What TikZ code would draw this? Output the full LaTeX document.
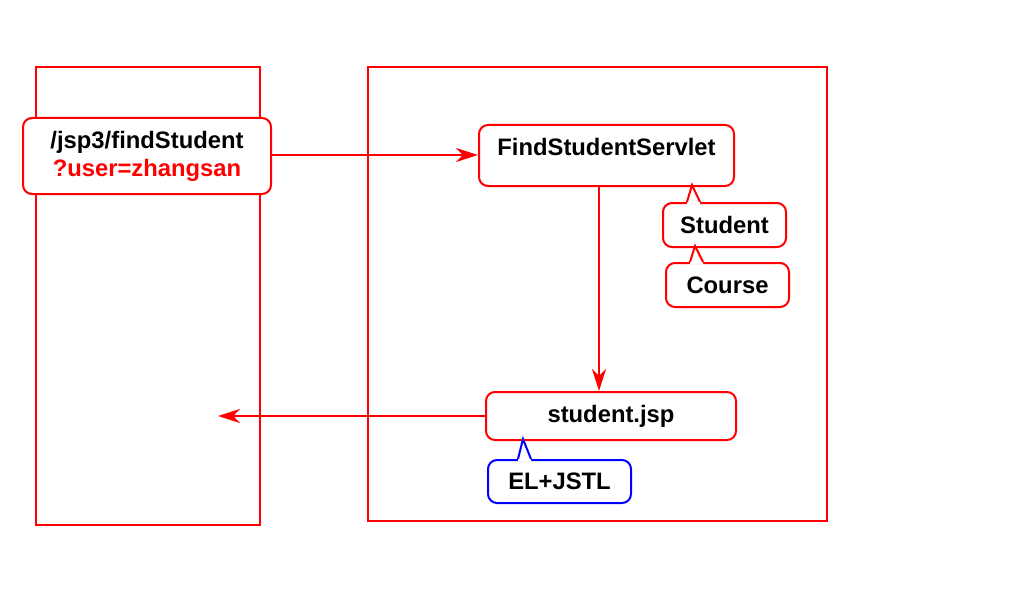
\documentclass[tikz,border=0pt]{standalone}
\usepackage{fontspec}
\setmainfont{Liberation Sans}
\usetikzlibrary{arrows.meta,calc}

\tikzset{
  rbox/.style={draw=red, line width=2pt, rounded corners=9pt, fill=white,
    font=\fontsize{23.8}{28}\selectfont\bfseries, align=center, inner sep=0pt},
  frame/.style={draw=red, line width=2.8pt},
  flow/.style={draw=red, line width=2.8pt, -{Stealth[length=22pt, width=14pt, inset=7pt]}}
}
% small pointer on top of a callout: node, offset from west, height, colour
\newcommand{\callouttip}[4]{%
  \fill[white] ([xshift=#2pt, yshift=-2.5pt]#1.north west) -- ([xshift=#2pt]#1.north west)
    -- ([xshift=#2pt+5pt, yshift=#3pt]#1.north west) -- ([xshift=#2pt+13pt]#1.north west)
    -- ([xshift=#2pt+13pt, yshift=-2.5pt]#1.north west) -- cycle;
  \draw[#4, line width=2pt] ([xshift=#2pt]#1.north west)
    -- ([xshift=#2pt+5pt, yshift=#3pt]#1.north west) -- ([xshift=#2pt+13pt]#1.north west);
}

\begin{document}
\begin{tikzpicture}[x=1pt, y=-1pt]
\useasboundingbox (0,0) rectangle (1024,596);

% browser and server
\draw[frame] (36,67) rectangle (260,525);
\draw[frame] (368,67) rectangle (827,521);

\node[rbox, minimum width=248, minimum height=76] (req) at (147,156)
  {/jsp3/findStudent\\\textcolor{red}{?user=zhangsan}};
\node[rbox, minimum width=255, minimum height=61, text height=16pt, text depth=16pt] (fss) at (606.5,155.5)
  {FindStudentServlet};
\node[rbox, minimum width=250, minimum height=48] (jsp) at (611,416) {student.jsp};

\node[rbox, minimum width=123, minimum height=44] (stud) at (724.5,225) {Student};
\node[rbox, minimum width=123, minimum height=44] (course) at (727.5,285) {Course};
\node[rbox, draw=blue, minimum width=143, minimum height=43] (el) at (559.5,481.5) {EL+JSTL};

\callouttip{stud}{25}{17}{red}
\callouttip{course}{25}{16}{red}
\callouttip{el}{31}{20}{blue}

\coordinate (back) at (218,416);
\draw[flow] (req.east |- 0,155) -- (fss.west |- 0,155);
\draw[flow] (fss.south -| 599,0) -- (jsp.north -| 599,0);
\draw[flow] (jsp.west) -- (back);
\end{tikzpicture}
\end{document}
